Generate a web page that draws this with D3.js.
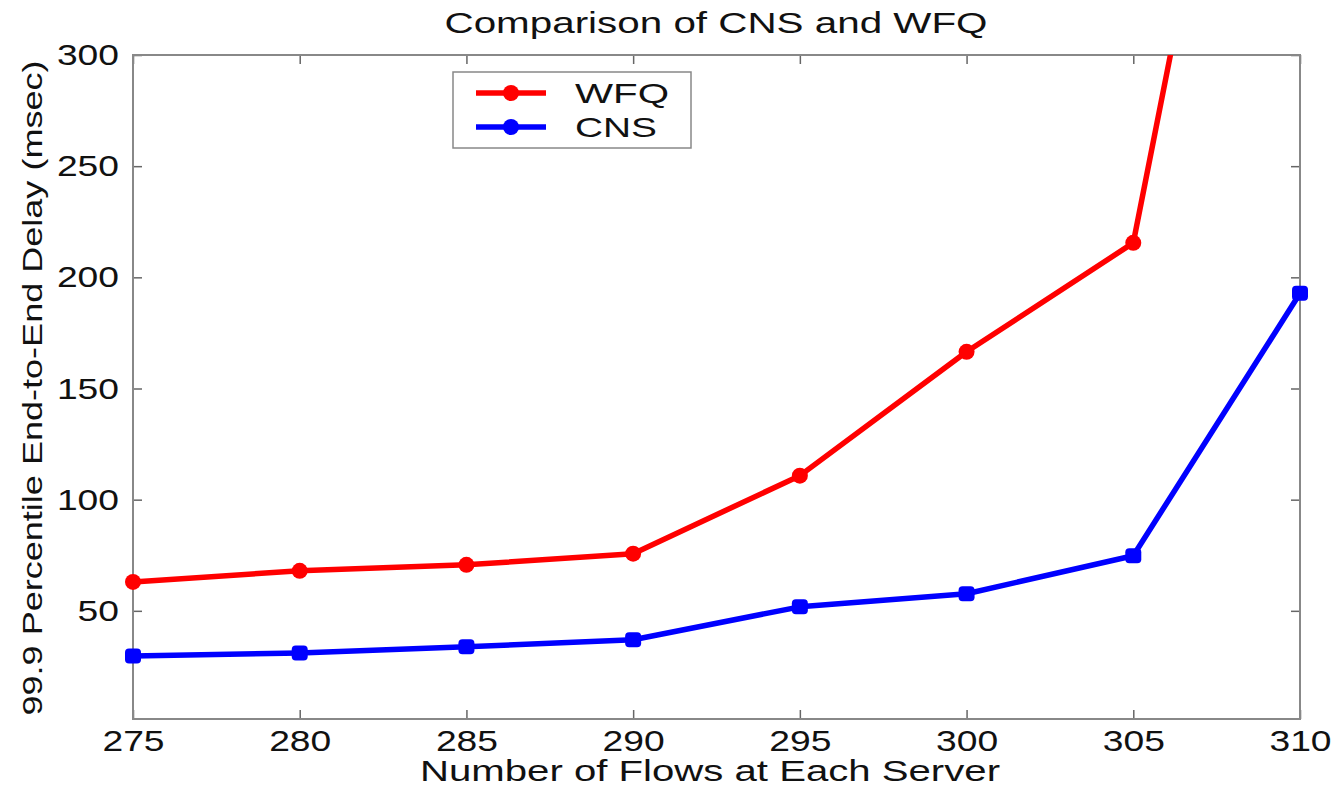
<!DOCTYPE html>
<html>
<head>
<meta charset="utf-8">
<script src="https://cdn.jsdelivr.net/npm/d3@7"></script>
<style>
  body { margin: 0; background: #fff; }
  text { font-family: "Liberation Sans", Arial, sans-serif; fill: #111; }
</style>
</head>
<body>
<script>
const flows = [275, 280, 285, 290, 295, 300, 305, 310];
const wfqDelay = [63, 68, 70.7, 75.7, 110.8, 166.5, 215.5, 595];
const cnsDelay = [29.7, 31, 33.8, 37, 51.8, 57.7, 74.8, 192.8];
const xTicks = [275, 280, 285, 290, 295, 300, 305, 310];
const yTicks = [50, 100, 150, 200, 250, 300];

const [w, h] = [1335, 788];
const margin = { top: 55, right: 35, bottom: 69, left: 133 };
const iw = w - margin.left - margin.right;
const ih = h - margin.top - margin.bottom;

const svg = d3.select('body')
    .append('svg')
    .attr('width', w)
    .attr('height', h);

const x = d3.scaleLinear().domain([275, 310]).range([0, iw]);
const y = d3.scaleLinear().domain([0, 300]).range([ih + 3, 0]);

const g = svg.append('g')
    .attr('transform', `translate(${margin.left}, ${margin.top})`);

// Title (the original picture is stretched sideways, so widths are fixed)
svg.append('text')
    .attr('x', 716)
    .attr('y', 33)
    .attr('text-anchor', 'middle')
    .attr('font-size', '29px')
    .attr('textLength', 543)
    .attr('lengthAdjust', 'spacingAndGlyphs')
    .text('Comparison of CNS and WFQ');

// Axes, ticks pointing inward, mirrored on top/right
const axisColor = '#888';
const styleAxis = sel => {
    sel.select('.domain').remove();
    sel.selectAll('.tick line').attr('stroke', '#666').attr('stroke-width', 1.5);
    sel.selectAll('.tick text')
        .attr('font-size', '30px')
        .attr('fill', '#111')
        .attr('textLength', function() { return this.textContent.length * 20.7; })
        .attr('lengthAdjust', 'spacingAndGlyphs');
};

g.append('g')
    .attr('transform', `translate(0, ${ih})`)
    .call(d3.axisBottom(x).tickValues(xTicks).tickSize(-9).tickPadding(11).tickFormat(d3.format('d')))
    .call(styleAxis);

g.append('g')
    .call(d3.axisTop(x).tickValues(xTicks).tickSize(-9).tickFormat(''))
    .call(styleAxis);

g.append('g')
    .call(d3.axisLeft(y).tickValues(yTicks).tickSize(-9).tickPadding(14))
    .call(styleAxis);

g.append('g')
    .attr('transform', `translate(${iw}, 0)`)
    .call(d3.axisRight(y).tickValues(yTicks).tickSize(-9).tickFormat(''))
    .call(styleAxis);

g.append('rect')
    .attr('width', iw)
    .attr('height', ih)
    .attr('fill', 'none')
    .attr('stroke', axisColor)
    .attr('stroke-width', 2);

// Axis labels
svg.append('text')
    .attr('x', 710)
    .attr('y', 781)
    .attr('text-anchor', 'middle')
    .attr('font-size', '29px')
    .attr('textLength', 580)
    .attr('lengthAdjust', 'spacingAndGlyphs')
    .text('Number of Flows at Each Server');

svg.append('text')
    .attr('transform', 'translate(42, 388) rotate(-90)')
    .attr('text-anchor', 'middle')
    .attr('font-size', '28px')
    .attr('textLength', 655)
    .attr('lengthAdjust', 'spacingAndGlyphs')
    .text('99.9 Percentile End-to-End Delay (msec)');

// Clip
svg.append('defs').append('clipPath')
    .attr('id', 'plot-clip')
    .append('rect')
    .attr('x', -20).attr('y', 0)
    .attr('width', iw + 40).attr('height', ih + 20);

const series = [
    { name: 'WFQ', values: wfqDelay, color: '#ff0000', marker: 'circle', labelW: 94 },
    { name: 'CNS', values: cnsDelay, color: '#0000ff', marker: 'square', labelW: 82 }
];

const line = d3.line()
    .x((d, i) => x(flows[i]))
    .y(d => y(d));

const plot = g.append('g').attr('clip-path', 'url(#plot-clip)');

series.forEach(s => {
    plot.append('path')
        .datum(s.values)
        .attr('fill', 'none')
        .attr('stroke', s.color)
        .attr('stroke-width', 5.5)
        .attr('stroke-linejoin', 'round')
        .attr('d', line);

    const pts = s.values.map((v, i) => [flows[i], v]).filter(d => d[1] <= 300);
    if (s.marker === 'circle') {
        plot.selectAll(null)
            .data(pts)
            .enter()
            .append('circle')
            .attr('cx', d => x(d[0]))
            .attr('cy', d => y(d[1]))
            .attr('r', 8)
            .attr('fill', s.color);
    } else {
        plot.selectAll(null)
            .data(pts)
            .enter()
            .append('rect')
            .attr('x', d => x(d[0]) - 8)
            .attr('y', d => y(d[1]) - 7.5)
            .attr('width', 16)
            .attr('height', 15)
            .attr('rx', 4)
            .attr('fill', s.color);
    }
});

// Legend
const legend = svg.append('g')
    .attr('transform', 'translate(453, 72)');

legend.append('rect')
    .attr('width', 238)
    .attr('height', 76)
    .attr('fill', '#fff')
    .attr('stroke', axisColor)
    .attr('stroke-width', 1.5);

series.forEach((s, i) => {
    const ly = 21 + i * 34;
    legend.append('line')
        .attr('x1', 23).attr('x2', 93)
        .attr('y1', ly).attr('y2', ly)
        .attr('stroke', s.color)
        .attr('stroke-width', 5.5);
    legend.append('circle')
        .attr('cx', 58).attr('cy', ly)
        .attr('r', 8)
        .attr('fill', s.color);
    legend.append('text')
        .attr('x', 122)
        .attr('y', ly + 10)
        .attr('font-size', '28px')
        .attr('textLength', s.labelW)
        .attr('lengthAdjust', 'spacingAndGlyphs')
        .text(s.name);
});
</script>
</body>
</html>
